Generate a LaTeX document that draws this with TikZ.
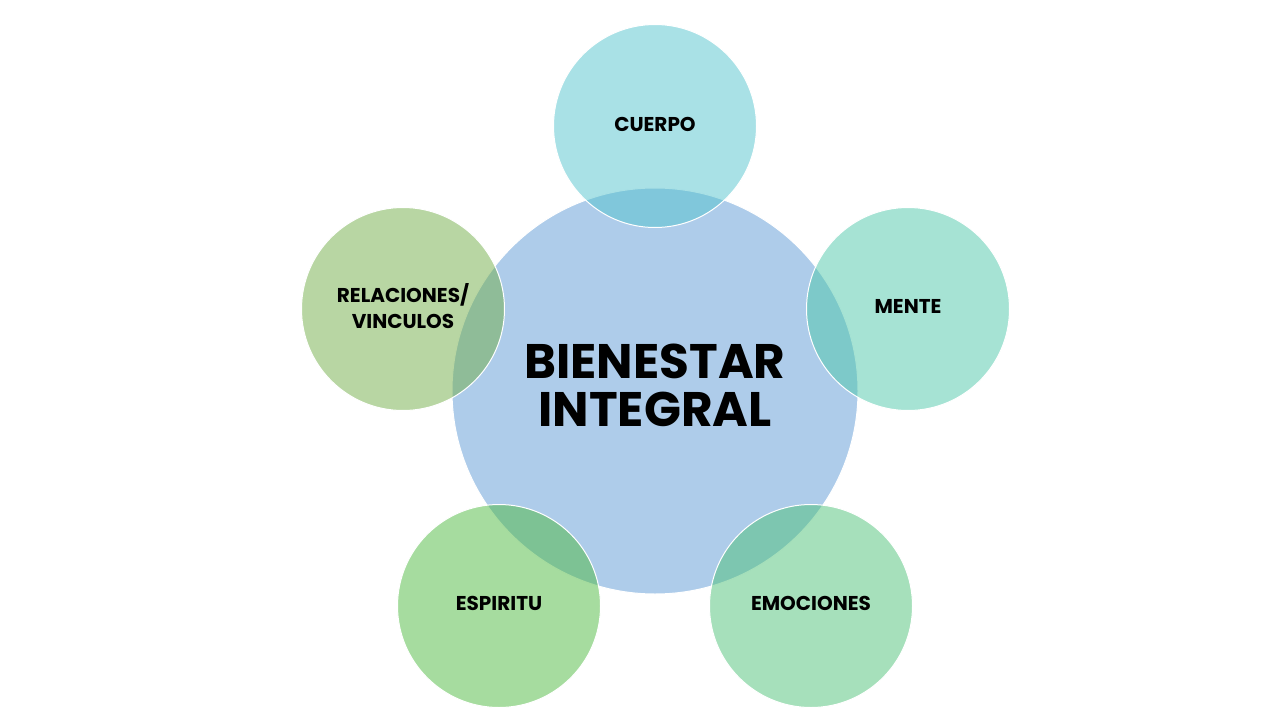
\documentclass[tikz,border=0pt]{standalone}
\usepackage{fontspec}
\setmainfont{Poppins}
\begin{document}
\begin{tikzpicture}[x=1pt,y=-1pt,
  outer/.style={circle, draw=white, line width=1pt, fill opacity=0.5, minimum size=203pt, inner sep=0pt},
  lbl/.style={font=\fontsize{20}{26}\selectfont\bfseries, text=black, align=center},
  big/.style={font=\fontsize{48.5}{48}\selectfont\bfseries, text=black, align=center}]
\useasboundingbox (0,0) rectangle (1280,720);
\definecolor{cmain}{HTML}{AECCEA}
\definecolor{ccuerpo}{RGB}{83,195,205}
\definecolor{cmente}{RGB}{77,199,169}
\definecolor{cemo}{RGB}{77,193,119}
\definecolor{cesp}{RGB}{77,185,63}
\definecolor{crel}{RGB}{113,173,71}
\node[circle, fill=cmain, draw=white, line width=1pt, minimum size=406pt, inner sep=0pt] (main) at (655,391) {};
\node[outer, fill=ccuerpo] (cuerpo) at (655,126) {};
\node[outer, fill=cmente] (mente) at (908,309) {};
\node[outer, fill=cemo] (emo) at (811,606) {};
\node[outer, fill=cesp] (esp) at (499,606) {};
\node[outer, fill=crel] (rel) at (403,309) {};
\node[big] (t) at (655,385) {BIENESTAR\\INTEGRAL};
\node[lbl] (tc) at (cuerpo.center) [yshift=2pt] {CUERPO};
\node[lbl] (tm) at (mente.center) [yshift=3pt] {MENTE};
\node[lbl] (te) at (emo.center) [yshift=3pt] {EMOCIONES};
\node[lbl] (ts) at (esp.center) [yshift=3pt] {ESPIRITU};
\node[lbl] (tr) at (rel.center) [yshift=3pt] {RELACIONES/\\VINCULOS};
\end{tikzpicture}
\end{document}
